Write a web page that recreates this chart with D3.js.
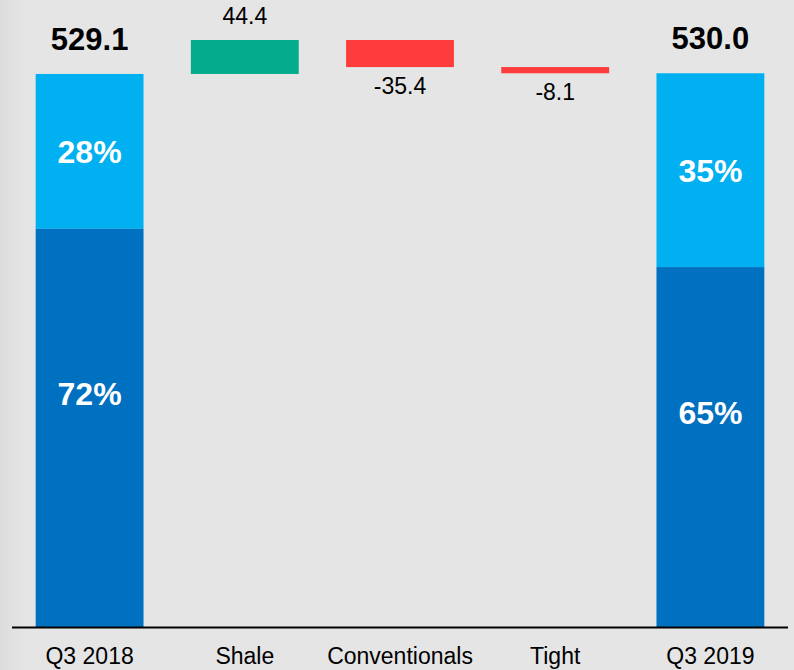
<!DOCTYPE html>
<html>
<head>
<meta charset="utf-8">
<script src="https://cdnjs.cloudflare.com/ajax/libs/d3/7.8.5/d3.min.js"></script>
<style>
  body { margin: 0; background: #e5e5e5; }
  svg { display: block; font-family: "Liberation Sans", Arial, sans-serif; }
</style>
</head>
<body>
<div id="chart"></div>
<script>
// data
var categories = ['Q3 2018', 'Shale', 'Conventionals', 'Tight', 'Q3 2019'];
var kinds = ['total', 'delta', 'delta', 'delta', 'total'];
var values = [529.1, 44.4, -35.4, -8.1, 530.0];
var shareLabels = ['Top', 'Bottom'];
var shares2018 = [28, 72];
var shares2019 = [35, 65];

var W = 794, H = 670;
var baseY = 627;

var svg = d3.select('#chart').append('svg')
  .attr('width', W)
  .attr('height', H);

// background with a faint shade on the left edge
var grad = svg.append('defs').append('linearGradient')
  .attr('id', 'bg').attr('x1', 0).attr('x2', 1).attr('y1', 0).attr('y2', 0);
grad.append('stop').attr('offset', '0').attr('stop-color', '#dcdcdc');
grad.append('stop').attr('offset', '0.03').attr('stop-color', '#e5e5e5');
grad.append('stop').attr('offset', '1').attr('stop-color', '#e5e5e5');
svg.append('rect').attr('width', W).attr('height', H).attr('fill', 'url(#bg)');

var x = d3.scaleBand()
  .domain(categories)
  .range([12, 788])
  .paddingInner(0.305)
  .paddingOuter(0.1525);

// axis is cut, the scale does not start at zero
var y = d3.scaleLinear()
  .domain([-194, 573.5])
  .range([baseY, 40]);

// running totals for the waterfall
var rows = [];
var run = 0;
for (var i = 0; i < categories.length; i++) {
  var r = {cat: categories[i], kind: kinds[i], v: values[i]};
  if (kinds[i] == 'total') {
    r.from = y.domain()[0];
    r.to = values[i];
    run = values[i];
  } else {
    r.from = run;
    r.to = run + values[i];
    run = r.to;
  }
  rows.push(r);
}

var shareData = {'Q3 2018': shares2018, 'Q3 2019': shares2019};
var shareColors = ['#00b0f0', '#0070c0'];

// total bars, split by share of the bar
rows.filter(function(d){ return d.kind == 'total'; }).forEach(function(d){
  var p = d3.scaleLinear().domain([100, 0]).range([y(d.to), y(d.from)]);
  var sh = shareData[d.cat];
  var acc = 100;
  sh.forEach(function(s, j){
    var top = p(acc), bot = p(acc - s);
    svg.append('rect')
      .attr('x', x(d.cat))
      .attr('y', top)
      .attr('width', x.bandwidth())
      .attr('height', bot - top)
      .attr('fill', shareColors[j]);
    var cy = (top + bot) / 2;
    if (j == sh.length - 1) cy -= 35;
    svg.append('text')
      .attr('x', x(d.cat) + x.bandwidth()/2)
      .attr('y', cy + 12)
      .attr('text-anchor', 'middle')
      .attr('fill', '#fff')
      .style('font-size', '32px')
      .style('font-weight', 'bold')
      .text(s + '%');
    acc -= s;
  });
  svg.append('text')
    .attr('x', x(d.cat) + x.bandwidth()/2)
    .attr('y', y(d.to) - 24)
    .attr('text-anchor', 'middle')
    .attr('fill', '#000')
    .style('font-size', '31px')
    .style('font-weight', 'bold')
    .text(d.v.toFixed(1));
});

// delta bars
var deltas = rows.filter(function(d){ return d.kind == 'delta'; });
svg.selectAll('rect.delta').data(deltas)
  .enter().append('rect')
    .attr('class', 'delta')
    .attr('x', function(d){ return x(d.cat); })
    .attr('y', function(d){ return y(Math.max(d.from, d.to)); })
    .attr('width', x.bandwidth())
    .attr('height', function(d){ return Math.abs(y(d.from) - y(d.to)); })
    .attr('fill', function(d){ return d.v >= 0 ? '#05ac8c' : '#ff3c3c'; });

svg.selectAll('text.delta').data(deltas)
  .enter().append('text')
    .attr('class', 'delta')
    .attr('x', function(d){ return x(d.cat) + x.bandwidth()/2; })
    .attr('y', function(d){
      return d.v >= 0 ? y(d.to) - 16 : y(d.to) + 27;
    })
    .attr('text-anchor', 'middle')
    .attr('fill', '#000')
    .style('font-size', '23px')
    .text(function(d){ return d.v.toFixed(1); });

// x axis
var xAxis = d3.axisBottom(x).tickSize(0).tickPadding(0);
var gx = svg.append('g')
  .attr('transform', 'translate(0,' + baseY + ')')
  .call(xAxis);
gx.select('.domain').attr('stroke', '#000').attr('stroke-width', 2)
  .attr('d', 'M12,0.5H788');
gx.selectAll('text')
  .attr('dy', null)
  .attr('y', 37)
  .attr('fill', '#000')
  .style('font-size', '23px')
  .style('font-family', '"Liberation Sans", Arial, sans-serif');
</script>
</body>
</html>
